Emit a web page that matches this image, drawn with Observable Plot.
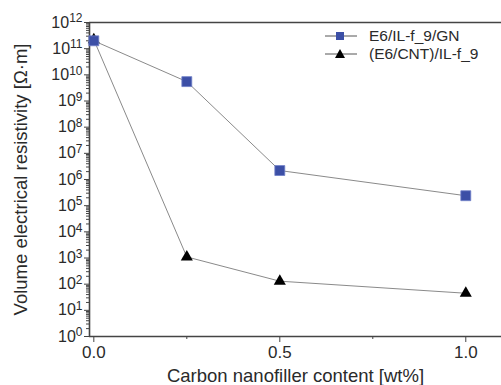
<!DOCTYPE html>
<html>
<head>
<meta charset="utf-8">
<script src="https://cdn.jsdelivr.net/npm/d3@7"></script>
<script src="https://cdn.jsdelivr.net/npm/@observablehq/plot@0.6"></script>
<style>
  html, body { margin: 0; padding: 0; background: #fff; }
  #chart { position: relative; width: 501px; height: 385px; overflow: hidden; }
</style>
</head>
<body>
<div id="chart"></div>
<script>
// Data
const content = [0, 0.25, 0.5, 1.0];               // wt%
const gnValues = [2.0e11, 5.5e9, 2.2e6, 2.4e5];     // E6/IL-f_9/GN
const cntValues = [2.2e11, 1.1e3, 1.3e2, 4.5e1];    // (E6/CNT)/IL-f_9
const seriesNames = ["E6/IL-f_9/GN", "(E6/CNT)/IL-f_9"];
const xMajorTicks = [0, 0.5, 1.0];
const xMinorTicks = [0.25, 0.75];
const yMajorTicks = d3.range(0, 13).map(k => Math.pow(10, k));
const yMinorTicks = d3.range(0, 12).flatMap(k => d3.range(2, 10).map(m => m * Math.pow(10, k)));
const xLabel = "Carbon nanofiller content [wt%]";
const yLabel = "Volume electrical resistivity [Ω·m]";

const gn = content.map((x, i) => ({x, y: gnValues[i]}));
const cnt = content.map((x, i) => ({x, y: cntValues[i]}));

const X0 = -0.0116, X1 = 1.096;
const textColor = "#2a2a2a";
const frameColor = "#444";
const blue = "#3c4fa6";

const svg = Plot.plot({
  width: 501,
  height: 385,
  marginLeft: 89,
  marginRight: 0,
  marginTop: 22,
  marginBottom: 49,
  style: {fontFamily: "'Liberation Sans', Arial, sans-serif", color: textColor, background: "#fff"},
  x: {domain: [X0, X1]},
  y: {type: "log", domain: [1, 1e12]},
  marks: [
    Plot.axisY(yMinorTicks, {tickSize: 3, tickFormat: () => "", stroke: frameColor, label: null}),
    Plot.axisY(yMajorTicks, {
      tickSize: 5, tickPadding: 2, fontSize: 16, stroke: frameColor,
      tickFormat: d => "10^" + Math.round(Math.log10(d)),
      label: yLabel, labelAnchor: "center", labelArrow: "none", labelOffset: 76
    }),
    Plot.axisX(xMinorTicks, {tickSize: 3, tickFormat: () => "", stroke: frameColor, label: null}),
    Plot.axisX(xMajorTicks, {
      tickSize: 6, tickPadding: 3, fontSize: 17, stroke: frameColor,
      tickFormat: d3.format(".1f"),
      label: xLabel, labelAnchor: "center", labelArrow: "none", labelOffset: 45
    }),
    Plot.ruleY([1e12], {stroke: frameColor, strokeWidth: 1.6}),
    Plot.ruleY([1], {stroke: frameColor, strokeWidth: 1.6}),
    Plot.ruleX([X0], {stroke: frameColor, strokeWidth: 1.6}),
    Plot.line(cnt, {x: "x", y: "y", stroke: "#8a8a8a", strokeWidth: 1}),
    Plot.line(gn, {x: "x", y: "y", stroke: "#8a8a8a", strokeWidth: 1}),
    Plot.dot(cnt, {x: "x", y: "y", symbol: "triangle", r: 4.5, fill: "#000", stroke: "none"}),
    Plot.dot(gn, {x: "x", y: "y", symbol: "square", r: 5.6, fill: blue, stroke: "#6f7fc8", strokeWidth: 0.8})
  ]
});

// superscript exponents on log tick labels
d3.select(svg).selectAll("text").each(function() {
  const t = this.textContent;
  if (/^10\^\d+$/.test(t)) {
    const exp = t.split("^")[1];
    const sel = d3.select(this);
    sel.text("");
    sel.append("tspan").text("10");
    sel.append("tspan").attr("dy", "-0.45em").attr("font-size", "12px").text(exp);
  }
});

// axis label font sizes
d3.select(svg).selectAll("g[aria-label='y-axis label'] text, g[aria-label='x-axis label'] text")
  .attr("font-size", "18.5px");

// legend
const lg = d3.select(svg).append("g").attr("font-size", "15.5px").attr("fill", textColor)
  .attr("text-anchor", "start");
const rows = [{name: seriesNames[0], sym: "square"}, {name: seriesNames[1], sym: "triangle"}];
rows.forEach((r, i) => {
  const cy = 36 + i * 18;
  lg.append("line").attr("x1", 325).attr("x2", 357).attr("y1", cy).attr("y2", cy)
    .attr("stroke", "#555").attr("stroke-width", 1);
  if (r.sym === "square") {
    lg.append("rect").attr("x", 336).attr("y", cy - 4).attr("width", 8).attr("height", 8).attr("fill", blue);
  } else {
    lg.append("path").attr("d", `M${340},${cy - 5}L${345},${cy + 4}L${335},${cy + 4}Z`).attr("fill", "#000");
  }
  lg.append("text").attr("x", 369).attr("y", cy).attr("dy", "0.35em").text(r.name);
});

document.getElementById("chart").appendChild(svg);
</script>
</body>
</html>
